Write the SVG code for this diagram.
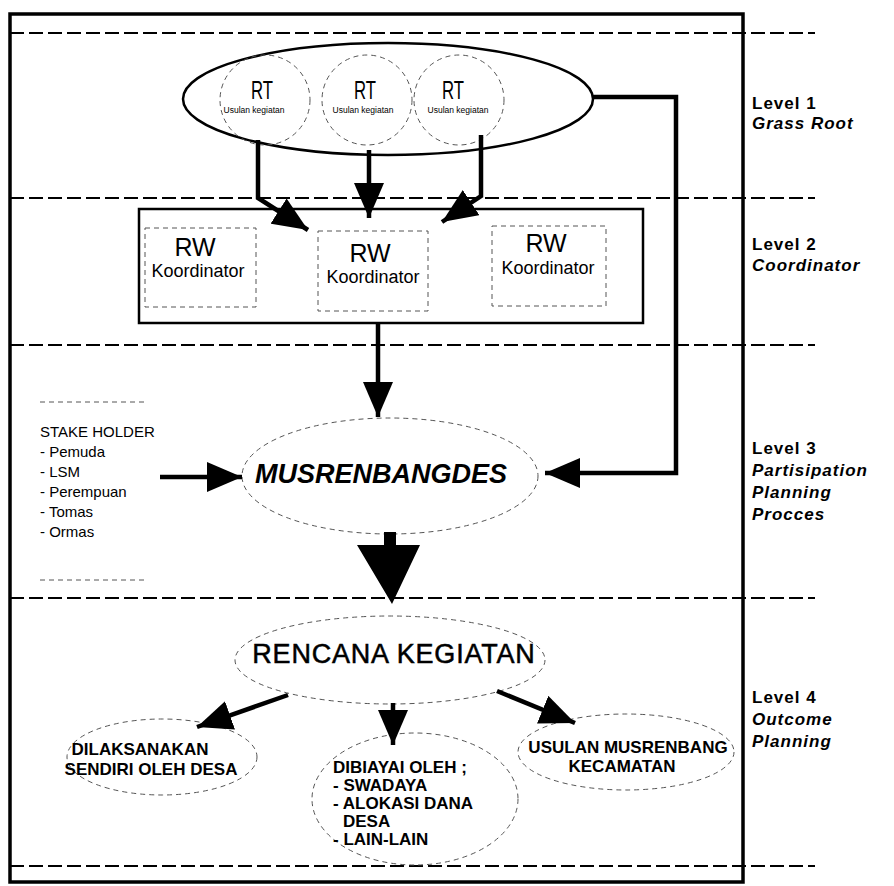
<svg xmlns="http://www.w3.org/2000/svg" width="894" height="886" viewBox="0 0 894 886">
<defs>
<style>
.frame{fill:none;stroke:#000;stroke-width:3.5}
.lvl{fill:none;stroke:#000;stroke-width:1.8;stroke-dasharray:14 5}
.dot{fill:none;stroke:#555;stroke-width:1;stroke-dasharray:5 4}
.box{fill:none;stroke:#000;stroke-width:2.5}
.conn{fill:none;stroke:#000;stroke-width:4.5;marker-end:url(#ah)}
text{font-family:"Liberation Sans",Arial,sans-serif;fill:#000}
.lab{font-family:"DejaVu Sans",sans-serif;font-weight:bold;font-size:17px;letter-spacing:1px}
.it{font-style:italic}
.rt{font-size:26px;text-anchor:middle}
.us{font-size:8.5px;text-anchor:middle}
.rw{font-size:25px;text-anchor:middle}
.ko{font-size:18px;text-anchor:middle}
.sh{font-size:15px}
.musr{font-size:27px;font-weight:bold;font-style:italic;text-anchor:middle}
.ren{font-size:27px;letter-spacing:0.8px;text-anchor:middle;stroke:#000;stroke-width:0.5}
.out{font-size:17px;font-weight:bold}
.mid{text-anchor:middle}
</style>
<marker id="ah" markerUnits="userSpaceOnUse" markerWidth="36" markerHeight="30" refX="35" refY="15" orient="auto" viewBox="0 0 36 30">
<path d="M0,0 L35,15 L0,30 Z" fill="#000"/>
</marker>
</defs>
<rect width="894" height="886" fill="#fff"/>

<g id="frame">
<rect class="frame" x="10" y="14" width="733" height="868"/>
<path class="lvl" d="M10,33 H815 M10,198 H815 M10,345 H815 M10,598 H815 M10,866 H815"/>
</g>

<g id="levels" class="lab">
<text x="752" y="109">Level 1</text>
<text class="it" x="752" y="129">Grass Root</text>
<text x="752" y="250">Level 2</text>
<text class="it" x="752" y="271">Coordinator</text>
<text x="752" y="454">Level 3</text>
<text class="it" x="752" y="476">Partisipation</text>
<text class="it" x="752" y="498">Planning</text>
<text class="it" x="752" y="520">Procces</text>
<text x="752" y="703">Level 4</text>
<text class="it" x="752" y="725">Outcome</text>
<text class="it" x="752" y="747">Planning</text>
</g>

<g id="rt-group">
<ellipse class="box" cx="388" cy="99" rx="205" ry="56"/>
<g id="rt1">
<circle class="dot" cx="265" cy="100" r="45"/>
<text class="rt" x="262" y="99" textLength="22" lengthAdjust="spacingAndGlyphs">RT</text>
<text class="us" x="254" y="113">Usulan kegiatan</text>
</g>
<g id="rt2">
<circle class="dot" cx="367" cy="100" r="45"/>
<text class="rt" x="365" y="99" textLength="22" lengthAdjust="spacingAndGlyphs">RT</text>
<text class="us" x="363" y="113">Usulan kegiatan</text>
</g>
<g id="rt3">
<circle class="dot" cx="459" cy="100" r="45"/>
<text class="rt" x="453" y="99" textLength="22" lengthAdjust="spacingAndGlyphs">RT</text>
<text class="us" x="458" y="113">Usulan kegiatan</text>
</g>
</g>

<g id="rw-group">
<rect class="box" x="139" y="209" width="504" height="114"/>
<g id="rw1">
<rect class="dot" x="145" y="228" width="111" height="79"/>
<text class="rw" x="195" y="256">RW</text>
<text class="ko" x="198" y="277">Koordinator</text>
</g>
<g id="rw2">
<rect class="dot" x="318" y="231" width="110" height="80"/>
<text class="rw" x="370" y="262">RW</text>
<text class="ko" x="373" y="283">Koordinator</text>
</g>
<g id="rw3">
<rect class="dot" x="492" y="226" width="114" height="80"/>
<text class="rw" x="546" y="252">RW</text>
<text class="ko" x="548" y="274">Koordinator</text>
</g>
</g>

<g id="stakeholder">
<path class="dot" d="M40,402 H147 M40,580 H147"/>
<text class="sh" x="40" y="437">STAKE HOLDER</text>
<text class="sh" x="40" y="457">- Pemuda</text>
<text class="sh" x="40" y="477">- LSM</text>
<text class="sh" x="40" y="497">- Perempuan</text>
<text class="sh" x="40" y="517">- Tomas</text>
<text class="sh" x="40" y="537">- Ormas</text>
</g>

<g id="musrenbangdes">
<ellipse class="dot" cx="390" cy="476" rx="148" ry="58"/>
<text class="musr" x="381" y="483">MUSRENBANGDES</text>
</g>

<g id="rencana">
<ellipse class="dot" cx="390" cy="660" rx="155" ry="44"/>
<text class="ren" x="394" y="663">RENCANA KEGIATAN</text>
</g>

<g id="dilaksanakan">
<ellipse class="dot" cx="162" cy="757" rx="95" ry="38"/>
<text class="out mid" x="140" y="755">DILAKSANAKAN</text>
<text class="out mid" x="151" y="775">SENDIRI OLEH DESA</text>
</g>

<g id="dibiayai">
<ellipse class="dot" cx="415" cy="799" rx="103" ry="66"/>
<text class="out" x="333" y="773">DIBIAYAI OLEH ;</text>
<text class="out" x="333" y="791">- SWADAYA</text>
<text class="out" x="333" y="809">- ALOKASI DANA</text>
<text class="out" x="343" y="827">DESA</text>
<text class="out" x="333" y="845">- LAIN-LAIN</text>
</g>

<g id="usulan">
<ellipse class="dot" cx="626" cy="752" rx="108" ry="38"/>
<text class="out mid" x="628" y="753">USULAN MUSRENBANG</text>
<text class="out mid" x="622" y="772">KECAMATAN</text>
</g>

<g id="connectors">
<path class="conn" d="M258,140 V198 L308,230"/>
<path class="conn" d="M369,150 V218"/>
<path class="conn" d="M481,135 V196 L442,222"/>
<path class="conn" d="M378,323 V417"/>
<path class="conn" d="M593,97 H676 V473 H545"/>
<path class="conn" d="M160,477 H242"/>
<path d="M384,532 H396 V545 H420 L392,604 L357,545 H384 Z" fill="#000"/>
<path class="conn" d="M288,695 L197,727"/>
<path class="conn" d="M393,703 V745"/>
<path class="conn" d="M497,691 L575,723"/>
</g>
</svg>
